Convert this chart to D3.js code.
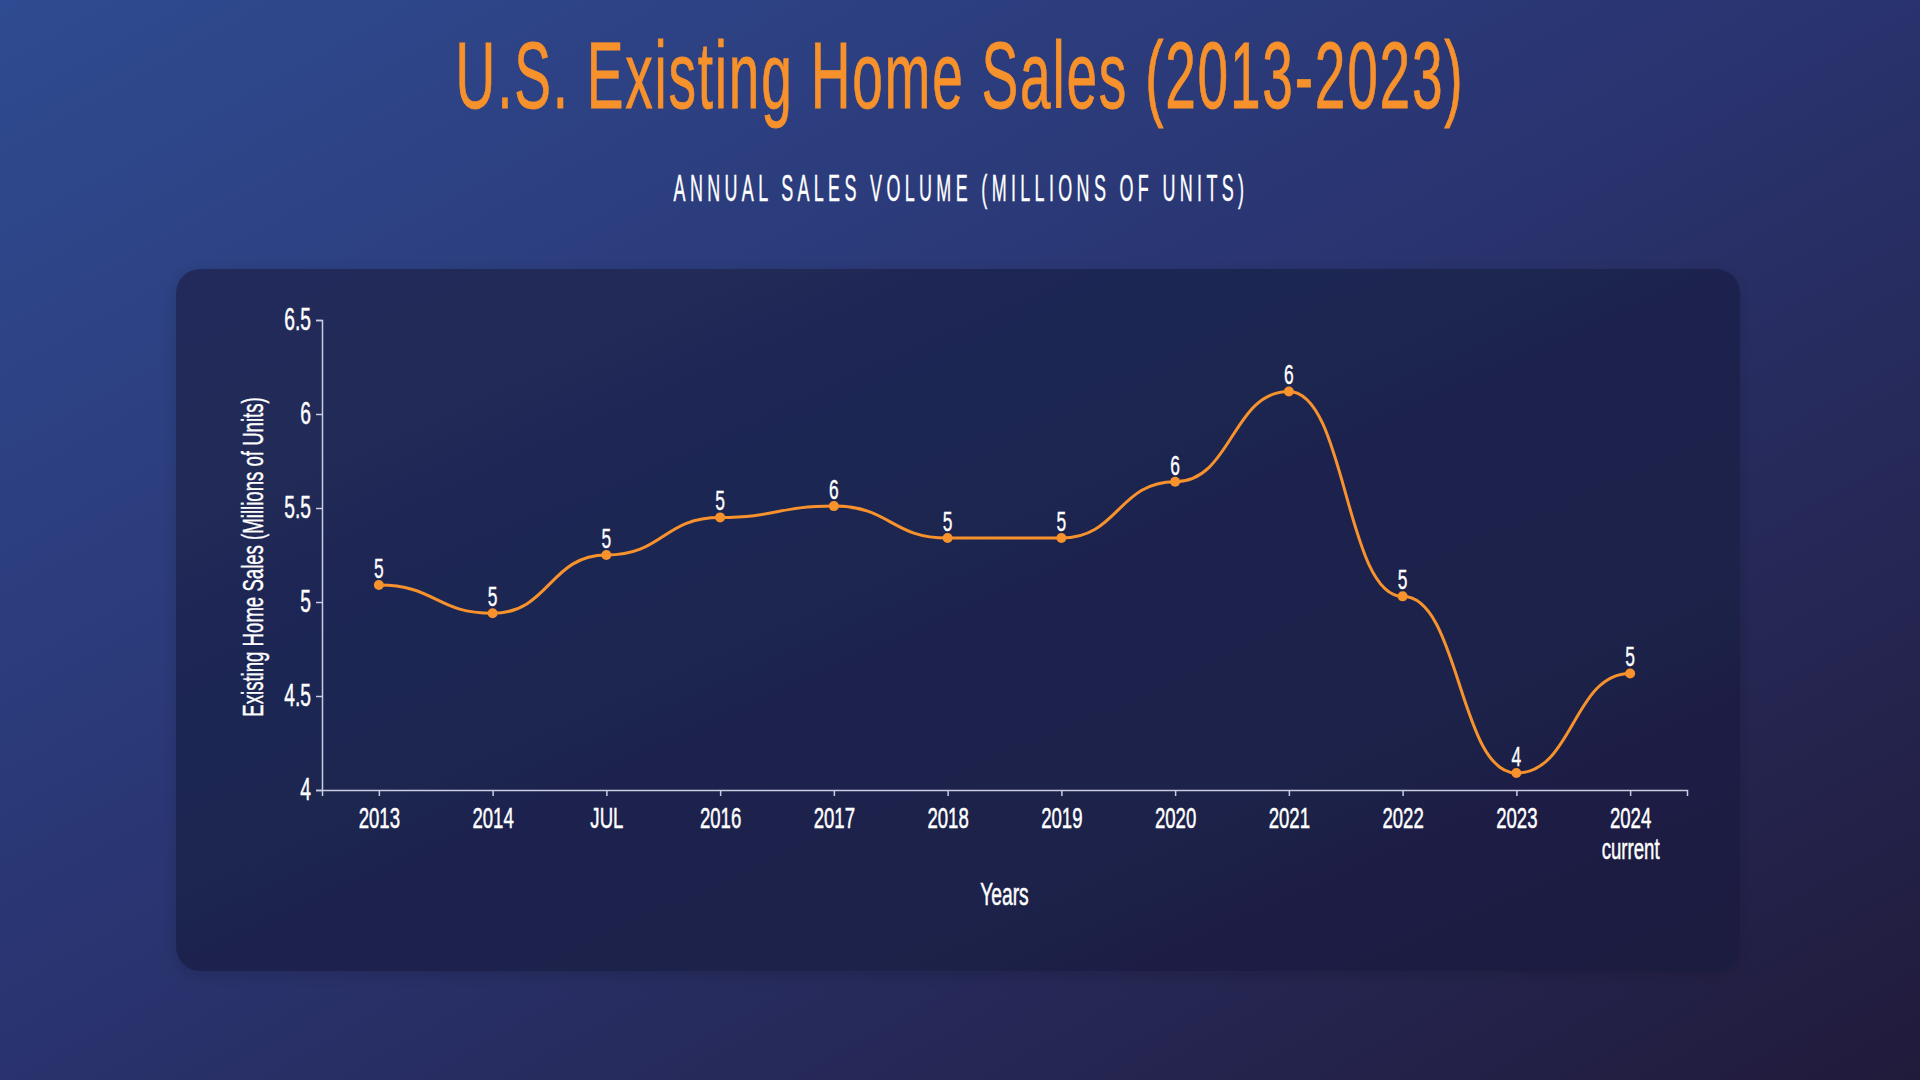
<!DOCTYPE html>
<html>
<head>
<meta charset="utf-8">
<script src="https://cdn.jsdelivr.net/npm/d3@7"></script>
<style>
  html, body { margin: 0; padding: 0; background: #222; }
  svg { display: block; }
  text { font-family: "Liberation Sans Narrow", "Liberation Sans", sans-serif; }
</style>
</head>
<body>
<svg id="chart" width="1920" height="1080"></svg>
<script>
// ---- data ----
const years = ["2013","2014","2015","2016","2017","2018","2019","2020","2021","2022","2023","2024"];
const tickLabels = ["2013","2014","JUL","2016","2017","2018","2019","2020","2021","2022","2023","2024"];
const tickSubLabels = ["","","","","","","","","","","","current"];
const sales = [5.09, 4.94, 5.25, 5.45, 5.51, 5.34, 5.34, 5.64, 6.12, 5.03, 4.09, 4.62];
const yTicks = [4, 4.5, 5, 5.5, 6, 6.5];
const titleText = "U.S. Existing Home Sales (2013-2023)";
const subtitleText = "ANNUAL SALES VOLUME (MILLIONS OF UNITS)";
const xTitle = "Years";
const yTitle = "Existing Home Sales (Millions of Units)";

const svg = d3.select("#chart");
const defs = svg.append("defs");

const bg = defs.append("linearGradient").attr("id", "bg")
  .attr("x1", 0).attr("y1", 0).attr("x2", 1).attr("y2", 1);
bg.append("stop").attr("offset", "0%").attr("stop-color", "#2f4b91");
bg.append("stop").attr("offset", "45%").attr("stop-color", "#2a3572");
bg.append("stop").attr("offset", "100%").attr("stop-color", "#211b3b");

const cardG = defs.append("linearGradient").attr("id", "card")
  .attr("x1", 0).attr("y1", 0).attr("x2", 1).attr("y2", 1);
cardG.append("stop").attr("offset", "0%").attr("stop-color", "#212c5c");
cardG.append("stop").attr("offset", "100%").attr("stop-color", "#1b1c40");

const shadow = defs.append("filter").attr("id", "shadow")
  .attr("x", "-10%").attr("y", "-10%").attr("width", "120%").attr("height", "120%");
shadow.append("feDropShadow").attr("dx", 0).attr("dy", 4).attr("stdDeviation", 8)
  .attr("flood-color", "#000").attr("flood-opacity", 0.15);

svg.append("rect").attr("width", 1920).attr("height", 1080).attr("fill", "url(#bg)");

// card
svg.append("rect")
  .attr("x", 176).attr("y", 269).attr("width", 1564).attr("height", 702)
  .attr("rx", 24).attr("ry", 24)
  .attr("fill", "url(#card)")
  .attr("filter", "url(#shadow)");

// condensed text helper: scale horizontally to reach target width
function fitWidth(sel, cx, by, target) {
  const w = sel.node().getComputedTextLength();
  sel.attr("transform", `translate(${cx},${by}) scale(${target / w},1)`);
}

// title
const title = svg.append("text")
  .attr("x", 0).attr("y", 0)
  .attr("text-anchor", "middle")
  .attr("fill", "#f7912b")
  .attr("font-size", 94)
  .attr("letter-spacing", 3)
  .attr("stroke", "#f7912b").attr("stroke-width", 0.8)
  .text(titleText);
fitWidth(title, 960, 108, 1009);

const subtitle = svg.append("text")
  .attr("x", 0).attr("y", 0)
  .attr("text-anchor", "middle")
  .attr("fill", "#ffffff")
  .attr("font-size", 37)
  .attr("letter-spacing", 9)
  .attr("stroke", "#ffffff").attr("stroke-width", 0.4)
  .text(subtitleText);
fitWidth(subtitle, 961, 201, 575);

// scales
const margin = { left: 322, right: 1687, top: 320, bottom: 790 };
const x = d3.scalePoint().domain(years).range([margin.left, margin.right]).padding(0.5);
const y = d3.scaleLinear().domain([4, 6.5]).range([margin.bottom, margin.top]);

const axisColor = "#c9cde2";
const K = 0.62; // horizontal condensing for text

// y axis
const yAxis = svg.append("g")
  .attr("transform", `translate(${margin.left},0)`)
  .call(d3.axisLeft(y).tickValues(yTicks).tickFormat(d => String(d)).tickSize(6).tickPadding(5));
yAxis.select(".domain").attr("stroke", axisColor).attr("stroke-width", 1.5);
yAxis.selectAll(".tick line").attr("stroke", axisColor).attr("stroke-width", 1.5);
yAxis.selectAll(".tick text").attr("fill", "#ffffff").attr("font-size", 31)
  .attr("font-family", "Liberation Sans Narrow")
  .attr("stroke", "#ffffff").attr("stroke-width", 0.5)
  .classed("cond", true);

// x axis
const xAxis = svg.append("g")
  .attr("transform", `translate(0,${margin.bottom})`)
  .call(d3.axisBottom(x).tickSize(6).tickPadding(8).tickFormat(() => ""));
xAxis.select(".domain").attr("stroke", axisColor).attr("stroke-width", 1.5);
xAxis.selectAll(".tick line").attr("stroke", axisColor).attr("stroke-width", 1.5);
xAxis.selectAll(".tick text").remove();
xAxis.selectAll(".tick").each(function(d, i) {
  const g = d3.select(this);
  g.append("text").attr("class", "cond")
    .attr("fill", "#ffffff").attr("font-size", 30)
    .attr("stroke", "#ffffff").attr("stroke-width", 0.5)
    .attr("text-anchor", "middle")
    .attr("x", 0).attr("y", 38).text(tickLabels[i]);
  if (tickSubLabels[i]) {
    g.append("text").attr("class", "cond")
      .attr("fill", "#ffffff").attr("font-size", 30)
      .attr("stroke", "#ffffff").attr("stroke-width", 0.5)
      .attr("text-anchor", "middle")
      .attr("x", 0).attr("y", 69).text(tickSubLabels[i]);
  }
});

// axis titles
svg.append("text").attr("class", "cond")
  .attr("x", (margin.left + margin.right) / 2).attr("y", 905)
  .attr("text-anchor", "middle").attr("fill", "#ffffff").attr("font-size", 31)
  .attr("stroke", "#ffffff").attr("stroke-width", 0.5)
  .text(xTitle);

svg.append("text").attr("class", "cond")
  .attr("transform", `translate(263,${(margin.top + margin.bottom) / 2 + 2}) rotate(-90)`)
  .attr("text-anchor", "middle").attr("fill", "#ffffff").attr("font-size", 30)
  .attr("stroke", "#ffffff").attr("stroke-width", 0.4)
  .text(yTitle);

// line
const pts = years.map((yr, i) => ({ yr, v: sales[i] }));
const line = d3.line().x(d => x(d.yr)).y(d => y(d.v)).curve(d3.curveBumpX);
svg.append("path").datum(pts)
  .attr("d", line)
  .attr("fill", "none")
  .attr("stroke", "#f7922c")
  .attr("stroke-width", 3);

svg.append("g").selectAll("circle").data(pts).join("circle")
  .attr("cx", d => x(d.yr)).attr("cy", d => y(d.v)).attr("r", 5)
  .attr("fill", "#f7922c");

svg.append("g").selectAll("text").data(pts).join("text")
  .attr("class", "cond")
  .attr("x", d => x(d.yr)).attr("y", d => y(d.v) - 7)
  .attr("text-anchor", "middle").attr("fill", "#ffffff").attr("font-size", 28)
  .attr("stroke", "#ffffff").attr("stroke-width", 0.4)
  .text(d => Math.round(d.v));

// condense texts
svg.selectAll(".cond").each(function() {
  const len = this.getComputedTextLength();
  if (len > 0) {
    d3.select(this).attr("textLength", len * K).attr("lengthAdjust", "spacingAndGlyphs");
  }
});
</script>
</body>
</html>
